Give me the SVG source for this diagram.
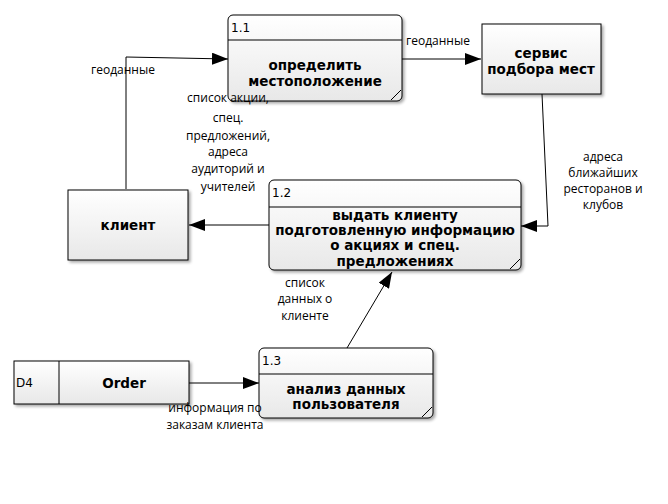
<svg xmlns="http://www.w3.org/2000/svg" width="668" height="504" viewBox="0 0 668 504">
<defs>
<linearGradient id="g" x1="0" y1="0" x2="0" y2="1">
<stop offset="0" stop-color="#ffffff"/>
<stop offset="1" stop-color="#e8e8e8"/>
</linearGradient>
<filter id="sh" x="-10%" y="-10%" width="130%" height="130%">
<feGaussianBlur in="SourceAlpha" stdDeviation="1.5"/>
<feOffset dx="2" dy="2" result="b"/>
<feComponentTransfer><feFuncA type="linear" slope="0.35"/></feComponentTransfer>
<feMerge><feMergeNode/><feMergeNode in="SourceGraphic"/></feMerge>
</filter>
<marker id="ah" viewBox="0 0 16 12" refX="16" refY="6" markerWidth="16" markerHeight="12" markerUnits="userSpaceOnUse" orient="auto">
<path d="M0,0 L16,6 L0,12 Z" fill="#000"/>
</marker>
</defs>
<style>
.box{fill:url(#g);stroke:#000;stroke-width:1;filter:url(#sh)}
.ln{stroke:#000;stroke-width:1;fill:none}
.t{font-family:"DejaVu Sans",Verdana,sans-serif;font-weight:bold;font-size:13.5px;text-anchor:middle;fill:#000}
.id{font-family:"DejaVu Sans",Verdana,sans-serif;font-size:12px;fill:#000}
.lb{font-family:"Open Sans","Noto Sans",sans-serif;font-size:12px;text-anchor:middle;fill:#000}
.c{stroke:#000;stroke-width:1;fill:none;marker-end:url(#ah)}
</style>
<rect width="668" height="504" fill="#fff"/>

<g id="connectors">
<polyline class="c" points="126,189 126,57 228,59"/>
<line class="c" x1="402" y1="59" x2="481" y2="59"/>
<polyline class="c" points="542,94 548,226 521,226"/>
<line class="c" x1="269" y1="225" x2="189" y2="225"/>
<line class="c" x1="347" y1="348" x2="392" y2="272"/>
<line class="c" x1="189" y1="383" x2="259" y2="383"/>
</g>

<g id="node-1-1">
<rect class="box" x="228" y="15" width="174" height="86" rx="5"/>
<line class="ln" x1="228" y1="40" x2="402" y2="40"/>
<line class="ln" x1="391" y1="100" x2="401" y2="90"/>
<text class="id" x="231" y="32">1.1</text>
<text class="t"><tspan x="315" y="70">определить</tspan><tspan x="315" y="86">местоположение</tspan></text>
</g>

<g id="node-service">
<rect class="box" x="482" y="24" width="119" height="70"/>
<text class="t"><tspan x="541" y="58">сервис</tspan><tspan x="541" y="74">подбора мест</tspan></text>
</g>

<g id="node-client">
<rect class="box" x="68" y="190" width="120" height="70"/>
<text class="t" x="128" y="230">клиент</text>
</g>

<g id="node-1-2">
<rect class="box" x="269" y="180" width="252" height="90" rx="5"/>
<line class="ln" x1="269" y1="207" x2="521" y2="207"/>
<line class="ln" x1="510" y1="269" x2="520" y2="259"/>
<text class="id" x="272" y="197">1.2</text>
<text class="t"><tspan x="395" y="220">выдать клиенту</tspan><tspan x="395" y="235">подготовленную информацию</tspan><tspan x="395" y="250">о акциях и спец.</tspan><tspan x="395" y="266">предложениях</tspan></text>
</g>

<g id="node-1-3">
<rect class="box" x="259" y="348" width="174" height="70" rx="5"/>
<line class="ln" x1="259" y1="374" x2="433" y2="374"/>
<line class="ln" x1="422" y1="417" x2="432" y2="407"/>
<text class="id" x="262" y="365">1.3</text>
<text class="t"><tspan x="346" y="394">анализ данных</tspan><tspan x="346" y="409">пользователя</tspan></text>
</g>

<g id="store-d4">
<rect class="box" x="14" y="361" width="175" height="43"/>
<line class="ln" x1="59" y1="361" x2="59" y2="404"/>
<text class="id" x="16" y="387">D4</text>
<text class="t" x="124" y="388">Order</text>
</g>

<g id="labels">
<text class="lb" x="123" y="74">геоданные</text>
<text class="lb" x="438" y="45">геоданные</text>
<text class="lb"><tspan x="603" y="161">адреса</tspan><tspan x="603" y="177">ближайших</tspan><tspan x="603" y="193">ресторанов и</tspan><tspan x="603" y="209">клубов</tspan></text>
<text class="lb"><tspan x="228" y="102">список акции,</tspan><tspan x="228" y="122">спец.</tspan><tspan x="228" y="140">предложений,</tspan><tspan x="228" y="156">адреса</tspan><tspan x="228" y="173">аудиторий и</tspan><tspan x="228" y="191">учителей</tspan></text>
<text class="lb"><tspan x="305" y="287">список</tspan><tspan x="305" y="303">данных о</tspan><tspan x="305" y="320">клиенте</tspan></text>
<text class="lb"><tspan x="215" y="412">информация по</tspan><tspan x="215" y="429">заказам клиента</tspan></text>
</g>
</svg>
